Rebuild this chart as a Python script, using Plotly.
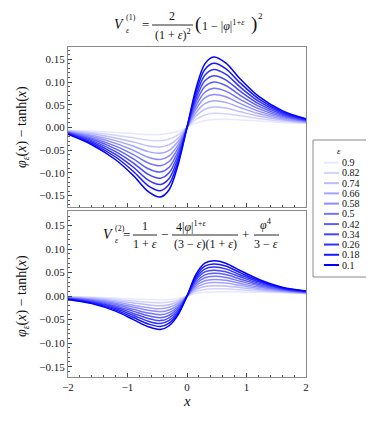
import plotly.graph_objects as go

# ---------------- data ----------------
x_grid = [-2, -1.6, -1.2, -0.9, -0.65, -0.45, -0.3, -0.15, 0, 0.15, 0.3, 0.45, 0.65, 0.9, 1.2, 1.6, 2]

eps_labels = ["0.1", "0.18", "0.26", "0.34", "0.42", "0.5", "0.58", "0.66", "0.74", "0.82", "0.9"]
line_colors = ["rgb(0,0,255)", "rgb(23,23,255)", "rgb(47,47,255)", "rgb(70,70,255)", "rgb(94,94,255)",
               "rgb(117,117,255)", "rgb(141,141,255)", "rgb(164,164,255)", "rgb(188,188,255)",
               "rgb(211,211,255)", "rgb(232,232,255)"]

# panel 1: V^(1)
v1_e010 = [-0.015, -0.038, -0.071, -0.106, -0.141, -0.153, -0.137, -0.082, 0, 0.085, 0.140, 0.155, 0.142, 0.106, 0.069, 0.037, 0.019]
v1_e018 = [-0.0141, -0.035, -0.065, -0.0968, -0.1285, -0.1393, -0.1246, -0.0747, 0, 0.0775, 0.1275, 0.1413, 0.1296, 0.0971, 0.0635, 0.0344, 0.018]
v1_e026 = [-0.0132, -0.032, -0.059, -0.0875, -0.1159, -0.1255, -0.1122, -0.0674, 0, 0.070, 0.115, 0.1275, 0.1172, 0.0881, 0.058, 0.0318, 0.017]
v1_e034 = [-0.0123, -0.029, -0.053, -0.0783, -0.1034, -0.1118, -0.0998, -0.0601, 0, 0.0625, 0.1025, 0.1138, 0.1048, 0.0792, 0.0525, 0.0292, 0.016]
v1_e042 = [-0.0114, -0.026, -0.047, -0.069, -0.0908, -0.098, -0.0874, -0.0528, 0, 0.055, 0.090, 0.100, 0.0924, 0.0702, 0.047, 0.0266, 0.015]
v1_e050 = [-0.0105, -0.023, -0.041, -0.0598, -0.0783, -0.0843, -0.075, -0.0455, 0, 0.0475, 0.0775, 0.0863, 0.080, 0.0613, 0.0415, 0.024, 0.014]
v1_e058 = [-0.0096, -0.020, -0.035, -0.0505, -0.0657, -0.0705, -0.0626, -0.0382, 0, 0.040, 0.065, 0.0725, 0.0676, 0.0523, 0.036, 0.0214, 0.013]
v1_e066 = [-0.0087, -0.017, -0.029, -0.0413, -0.0532, -0.0568, -0.0502, -0.0309, 0, 0.0325, 0.0525, 0.0588, 0.0552, 0.0434, 0.0305, 0.0188, 0.012]
v1_e074 = [-0.0078, -0.014, -0.023, -0.032, -0.0406, -0.043, -0.0378, -0.0236, 0, 0.025, 0.040, 0.045, 0.0428, 0.0344, 0.025, 0.0162, 0.011]
v1_e082 = [-0.0069, -0.011, -0.017, -0.0228, -0.0281, -0.0293, -0.0254, -0.0163, 0, 0.0175, 0.0275, 0.0313, 0.0304, 0.0255, 0.0195, 0.0136, 0.010]
v1_e090 = [-0.006, -0.008, -0.011, -0.0135, -0.0155, -0.0155, -0.013, -0.009, 0, 0.010, 0.015, 0.0175, 0.018, 0.0165, 0.014, 0.011, 0.009]

# panel 2: V^(2)
v2_e010 = [-0.007, -0.016, -0.032, -0.050, -0.065, -0.071, -0.063, -0.040, 0, 0.046, 0.070, 0.075, 0.070, 0.054, 0.036, 0.019, 0.011]
v2_e018 = [-0.0064, -0.0146, -0.0292, -0.0456, -0.0592, -0.0647, -0.0574, -0.0365, 0, 0.042, 0.0638, 0.0684, 0.064, 0.0495, 0.0332, 0.0178, 0.0104]
v2_e026 = [-0.0058, -0.0132, -0.0264, -0.0412, -0.0534, -0.0584, -0.0518, -0.033, 0, 0.038, 0.0576, 0.0618, 0.0579, 0.045, 0.0304, 0.0166, 0.0098]
v2_e034 = [-0.0052, -0.0118, -0.0236, -0.0368, -0.0476, -0.0521, -0.0462, -0.0295, 0, 0.034, 0.0514, 0.0552, 0.0519, 0.0405, 0.0276, 0.0154, 0.0092]
v2_e042 = [-0.0046, -0.0104, -0.0208, -0.0324, -0.0418, -0.0458, -0.0406, -0.026, 0, 0.030, 0.0452, 0.0486, 0.0458, 0.036, 0.0248, 0.0142, 0.0086]
v2_e050 = [-0.004, -0.009, -0.018, -0.028, -0.036, -0.0395, -0.035, -0.0225, 0, 0.026, 0.039, 0.042, 0.0398, 0.0315, 0.022, 0.013, 0.008]
v2_e058 = [-0.0034, -0.0076, -0.0152, -0.0236, -0.0302, -0.0332, -0.0294, -0.019, 0, 0.022, 0.0328, 0.0354, 0.0337, 0.027, 0.0192, 0.0118, 0.0074]
v2_e066 = [-0.0028, -0.0062, -0.0124, -0.0192, -0.0244, -0.0269, -0.0238, -0.0155, 0, 0.018, 0.0266, 0.0288, 0.0277, 0.0225, 0.0164, 0.0106, 0.0068]
v2_e074 = [-0.0022, -0.0048, -0.0096, -0.0148, -0.0186, -0.0206, -0.0182, -0.012, 0, 0.014, 0.0204, 0.0222, 0.0216, 0.018, 0.0136, 0.0094, 0.0062]
v2_e082 = [-0.0016, -0.0034, -0.0068, -0.0104, -0.0128, -0.0143, -0.0126, -0.0085, 0, 0.010, 0.0142, 0.0156, 0.0156, 0.0135, 0.0108, 0.0082, 0.0056]
v2_e090 = [-0.001, -0.002, -0.004, -0.006, -0.007, -0.008, -0.007, -0.005, 0, 0.006, 0.008, 0.009, 0.0095, 0.009, 0.008, 0.007, 0.005]

panel1 = [v1_e010, v1_e018, v1_e026, v1_e034, v1_e042, v1_e050, v1_e058, v1_e066, v1_e074, v1_e082, v1_e090]
panel2 = [v2_e010, v2_e018, v2_e026, v2_e034, v2_e042, v2_e050, v2_e058, v2_e066, v2_e074, v2_e082, v2_e090]

# ---------------- figure ----------------
OFF = 8  # page body margin
W, H = 374, 423
# plot area in page pixels: x 68..306, y 47..377
ML, MT = 68 - OFF, 47 - OFF
MR, MB = W - (306 - OFF), H - (377 - OFF)
PW, PH = W - ML - MR, H - MT - MB


def px(x):
    return (x - OFF - ML) / PW


def py(y):
    return (H - MB - (y - OFF)) / PH


SERIF = "Liberation Serif"
fig = go.Figure()

for k in reversed(range(len(eps_labels))):
    fig.add_trace(go.Scatter(x=x_grid, y=panel1[k], mode="lines", name=eps_labels[k],
                             line=dict(color=line_colors[k], width=1.5, shape="spline", smoothing=0.9),
                             xaxis="x", yaxis="y", showlegend=False, hoverinfo="skip"))
for k in reversed(range(len(eps_labels))):
    fig.add_trace(go.Scatter(x=x_grid, y=panel2[k], mode="lines", name=eps_labels[k],
                             line=dict(color=line_colors[k], width=1.5, shape="spline", smoothing=0.9),
                             xaxis="x2", yaxis="y2", showlegend=False, hoverinfo="skip"))

frame = dict(showline=True, linecolor="#8a8a8a", linewidth=1.3, mirror=True, showgrid=False, zeroline=False,
             ticks="inside", ticklen=4, tickcolor="#444", tickwidth=1,
             tickfont=dict(family=SERIF, size=11, color="#222"))

top_dom = [py(207), 1.0]
bot_dom = [0.0, py(211)]

fig.update_layout(
    width=W, height=H, margin=dict(l=ML, r=MR, t=MT, b=MB),
    paper_bgcolor="white", plot_bgcolor="white", showlegend=False,
    font=dict(family=SERIF, color="#111"),
    xaxis=dict(frame, domain=[0, 1], anchor="y", range=[-2, 2], dtick=1, tick0=0, showticklabels=False,
               minor=dict(ticks="inside", ticklen=2, dtick=0.2, tick0=0, tickcolor="#555")),
    yaxis=dict(frame, domain=top_dom, anchor="x", range=[-0.175, 0.177], dtick=0.05, tick0=0, tickformat=".2f",
               minor=dict(ticks="inside", ticklen=2, dtick=0.01, tick0=0, tickcolor="#555")),
    xaxis2=dict(frame, domain=[0, 1], anchor="y2", range=[-2, 2], dtick=1, tick0=0, tickformat="d",
                minor=dict(ticks="inside", ticklen=2, dtick=0.2, tick0=0, tickcolor="#555")),
    yaxis2=dict(frame, domain=bot_dom, anchor="x2", range=[-0.172, 0.181], dtick=0.05, tick0=0, tickformat=".2f",
                minor=dict(ticks="inside", ticklen=2, dtick=0.01, tick0=0, tickcolor="#555")),
)

ann = []
shapes = []


def text(x, y, s, size=13, xanchor="center"):
    ann.append(dict(x=px(x), y=py(y), xref="paper", yref="paper", text=s, showarrow=False,
                    xanchor=xanchor, yanchor="middle", font=dict(family=SERIF, size=size, color="#111")))


def bar(x0, x1, y):
    shapes.append(dict(type="line", xref="paper", yref="paper", x0=px(x0), x1=px(x1), y0=py(y), y1=py(y),
                       line=dict(color="#111", width=0.9)))


# axis titles
ytitle = "<i>φ</i><sub><i>ε</i></sub>(<i>x</i>) − tanh(<i>x</i>)"
for yc in (127, 296):
    ann.append(dict(x=px(22), y=py(yc), xref="paper", yref="paper", text=ytitle, showarrow=False,
                    textangle=-90, xanchor="center", yanchor="middle",
                    font=dict(family=SERIF, size=14, color="#111")))
text(187, 401, "<i>x</i>", size=15)

# formula 1 (top)
text(119, 24, "<i>V</i>", 14)
text(131, 18, "(1)", 8)
text(128, 30, "<i>ε</i>", 8)
text(145, 24, "=", 13)
text(172, 16, "2", 12)
bar(152, 193, 25)
text(173, 34, "(1 + <i>ε</i>)<sup>2</sup>", 12)
text(193, 24, "(", 19, xanchor="left")
text(200, 25, "1 − |<i>φ</i>|<sup>1+<i>ε</i></sup>", 12, xanchor="left")
text(249, 24, ")", 19, xanchor="left")
text(256, 16, "2", 9, xanchor="left")

# formula 2 (bottom)
text(108, 234, "<i>V</i>", 14)
text(120, 228, "(2)", 8)
text(117, 240, "<i>ε</i>", 8)
text(126, 234, "=", 13)
text(145, 226, "1", 12)
bar(133, 157, 235)
text(145, 244, "1 + <i>ε</i>", 12)
text(164, 234, "−", 13)
text(191, 226, "4|<i>φ</i>|<sup>1+<i>ε</i></sup>", 12)
bar(172, 238, 235)
text(205, 244, "(3 − <i>ε</i>)(1 + <i>ε</i>)", 12)
text(245, 234, "+", 13)
text(266, 225, "<i>φ</i><sup>4</sup>", 12)
bar(254, 279, 235)
text(266, 244, "3 − <i>ε</i>", 12)

# legend (manual)
shapes.append(dict(type="rect", xref="paper", yref="paper", x0=px(313), x1=px(373), y0=py(140), y1=py(277),
                   line=dict(color="#8a8a8a", width=1), fillcolor="white", layer="below"))
text(339, 151, "<i>ε</i>", 9)
order = list(reversed(range(len(eps_labels))))
for i, k in enumerate(order):
    yy = 162.7 + i * 10.23
    shapes.append(dict(type="line", xref="paper", yref="paper", x0=px(324), x1=px(339), y0=py(yy), y1=py(yy),
                       line=dict(color=line_colors[k], width=2)))
    text(340, yy, eps_labels[k], 10, xanchor="left")

fig.update_layout(annotations=ann, shapes=shapes)
fig.write_html("out.html")
